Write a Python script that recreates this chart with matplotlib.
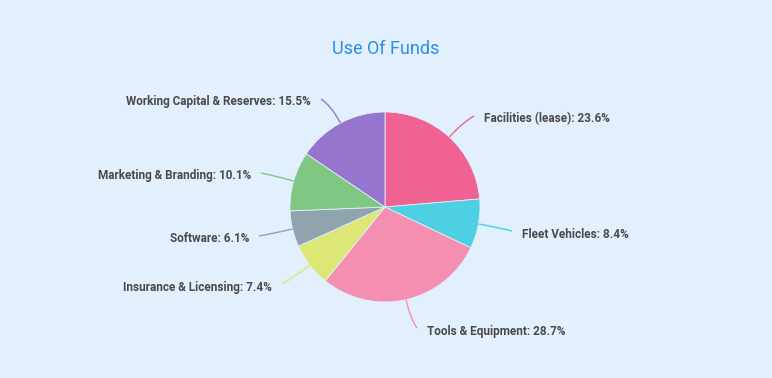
import numpy as np
import matplotlib
matplotlib.use("Agg")
import matplotlib.pyplot as plt
from matplotlib.path import Path
from matplotlib.patches import PathPatch

categories = ["Facilities (lease)", "Fleet Vehicles", "Tools & Equipment",
              "Insurance & Licensing", "Software", "Marketing & Branding",
              "Working Capital & Reserves"]
values = [23.6, 8.4, 28.7, 7.4, 6.1, 10.1, 15.5]
colors = ["#f06292", "#4dd0e1", "#f48fb1", "#dce775", "#90a4ae", "#81c784", "#9575cd"]

# label anchor positions in pixel coords (x, y from top), alignment
label_pos = [(484, 119, "left"), (522, 234, "left"), (427, 331, "left"),
             (272, 287, "right"), (249, 239, "right"), (251, 176, "right"),
             (311, 102, "right")]

W, H = 772, 378
bg = "#e2effd"
fig = plt.figure(figsize=(W / 100, H / 100), dpi=100, facecolor=bg)
ax = fig.add_axes([0, 0, 1, 1])
ax.set_xlim(0, W)
ax.set_ylim(0, H)
ax.set_aspect("equal")
ax.axis("off")
ax.set_facecolor(bg)

cx, cy, R = 385, H - 207, 95
wedges, _ = ax.pie(values, colors=colors, startangle=90, counterclock=False,
                   center=(cx, cy), radius=R,
                   wedgeprops=dict(linewidth=0.6, edgecolor=bg))
ax.set_xlim(0, W)
ax.set_ylim(0, H)

total = sum(values)
cum = 0
for v, c, lab, (tx, ty, ha) in zip(values, colors, categories, label_pos):
    mid = cum + v / 2
    cum += v
    ang = np.deg2rad(90 - 360 * mid / total)
    p0 = (cx + R * np.cos(ang), cy + R * np.sin(ang))
    p1 = (cx + (R + 20) * np.cos(ang), cy + (R + 20) * np.sin(ang))
    tyd = H - ty
    ex = tx - 10 if ha == "left" else tx + 10
    p2 = (ex, tyd + 3)
    path = Path([p0, p1, p2], [Path.MOVETO, Path.CURVE3, Path.CURVE3])
    ax.add_patch(PathPatch(path, facecolor="none", edgecolor=c, lw=1))
    ax.text(tx, tyd, f"{lab}: {v}%", ha=ha, va="center", fontsize=8.5,
            fontweight="bold", family="Roboto", color="#4a4a4a")

ax.text(W / 2, H - 49, "Use Of Funds", ha="center", va="center", fontsize=13,
        family="Roboto", color="#2f8de4")

fig.savefig("out.png", dpi=100, facecolor=bg)
